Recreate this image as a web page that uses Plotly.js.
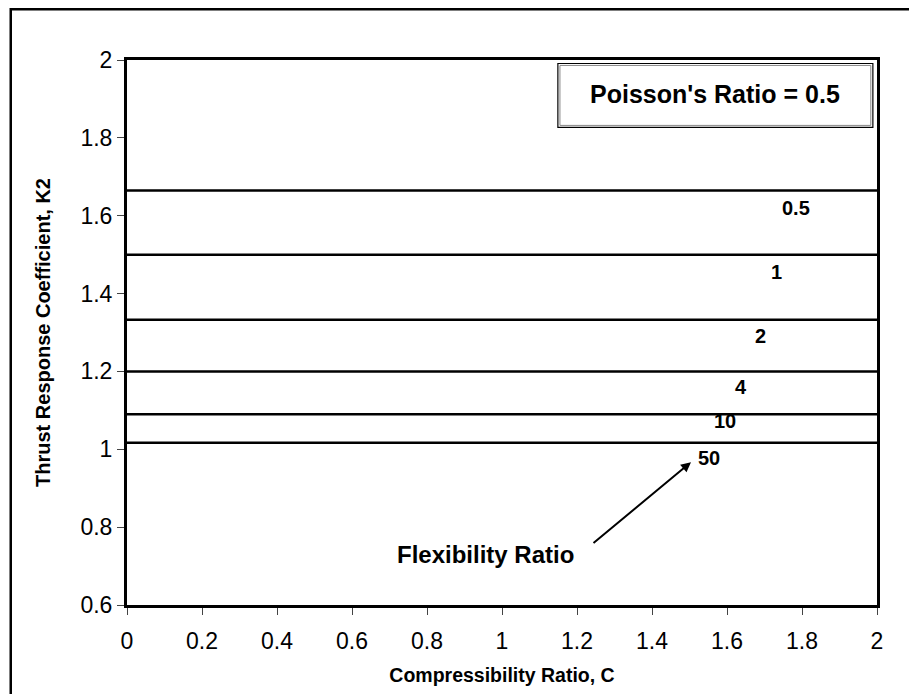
<!DOCTYPE html>
<html>
<head>
<meta charset="utf-8">
<script src="https://cdn.plot.ly/plotly-3.0.1.min.js"></script>
<style>html,body{margin:0;padding:0;background:#fff;}#chart{width:909px;height:694px;}</style>
</head>
<body>
<div id="chart"></div>
<script>
// Data
const compressibility = [0, 2];
const flexibilityRatios = ["0.5", "1", "2", "4", "10", "50"];
const k2Values = [1.665, 1.5, 1.333, 1.2, 1.09, 1.017];
const xTicks = [0, 0.2, 0.4, 0.6, 0.8, 1, 1.2, 1.4, 1.6, 1.8, 2];
const yTicks = [0.6, 0.8, 1, 1.2, 1.4, 1.6, 1.8, 2];

// label placement (data coords)
const labelX = [1.784, 1.733, 1.688, 1.637, 1.595, 1.552];
const labelY = [1.619, 1.455, 1.29, 1.159, 1.072, 0.977];

const FONT = 'Liberation Sans, Arial, sans-serif';

const traces = k2Values.map((v, i) => ({
  x: compressibility,
  y: [v, v],
  mode: 'lines',
  line: {color: '#000', width: 2.5},
  name: flexibilityRatios[i],
  showlegend: false,
  hoverinfo: 'skip'
}));

const annotations = flexibilityRatios.map((t, i) => ({
  x: labelX[i], y: labelY[i], xref: 'x', yref: 'y',
  text: '<b>' + t + '</b>', showarrow: false,
  font: {family: FONT, size: 20, color: '#000'}
}));

annotations.push({
  x: 0.955, y: 0.731, xref: 'x', yref: 'y',
  text: '<b>Flexibility Ratio</b>', showarrow: false,
  font: {family: FONT, size: 24, color: '#000'}
});
annotations.push({
  x: 1.504, y: 0.967, xref: 'x', yref: 'y',
  ax: 1.24, ay: 0.756, axref: 'x', ayref: 'y',
  text: '', showarrow: true, arrowhead: 2, arrowsize: 1, arrowwidth: 2, arrowcolor: '#000', standoff: 0
});
annotations.push({
  x: 1.568, y: 1.912, xref: 'x', yref: 'y',
  text: "<b>Poisson's Ratio = 0.5</b>", showarrow: false,
  font: {family: FONT, size: 25, color: '#000'}
});

const layout = {
  width: 909, height: 694,
  margin: {l: 127, r: 32, t: 60, b: 89},
  paper_bgcolor: '#fff', plot_bgcolor: '#fff',
  font: {family: FONT, size: 23, color: '#000'},
  xaxis: {
    range: [0, 2], tickvals: xTicks, ticktext: xTicks.map(String),
    showgrid: false, zeroline: false, showline: true, mirror: true,
    linecolor: '#000', linewidth: 3, ticks: 'outside', ticklen: 7, tickcolor: '#444', tickwidth: 1,
    tickfont: {size: 23}, ticklabelstandoff: 6, fixedrange: true,
    title: {text: '<b>Compressibility Ratio, C</b>', font: {size: 19.5}, standoff: 16}
  },
  yaxis: {
    range: [0.6, 2], tickvals: yTicks, ticktext: yTicks.map(String),
    showgrid: false, zeroline: false, showline: true, mirror: true,
    linecolor: '#000', linewidth: 3, ticks: 'outside', ticklen: 7, tickcolor: '#444', tickwidth: 1,
    tickfont: {size: 23}, fixedrange: true,
    title: {text: '<b>Thrust Response Coefficient, K2</b>', font: {size: 20}, standoff: 25}
  },
  shapes: [
    {type: 'rect', xref: 'x', yref: 'y', x0: 1.149, x1: 1.989, y0: 1.827, y1: 1.991,
     line: {color: '#000', width: 1.2}, fillcolor: '#fff', layer: 'above'},
    {type: 'rect', xref: 'x', yref: 'y', x0: 1.1545, x1: 1.9835, y0: 1.832, y1: 1.986,
     line: {color: '#888', width: 1}, fillcolor: 'rgba(0,0,0,0)', layer: 'above'},
    {type: 'rect', xref: 'paper', yref: 'paper', x0: -0.155, x1: 1.4, y0: -0.3, y1: 1.093,
     line: {color: '#000', width: 2.5}, fillcolor: 'rgba(0,0,0,0)', layer: 'below'}
  ],
  annotations: annotations,
  showlegend: false
};

Plotly.newPlot('chart', traces, layout, {displayModeBar: false, staticPlot: true});
</script>
</body>
</html>
